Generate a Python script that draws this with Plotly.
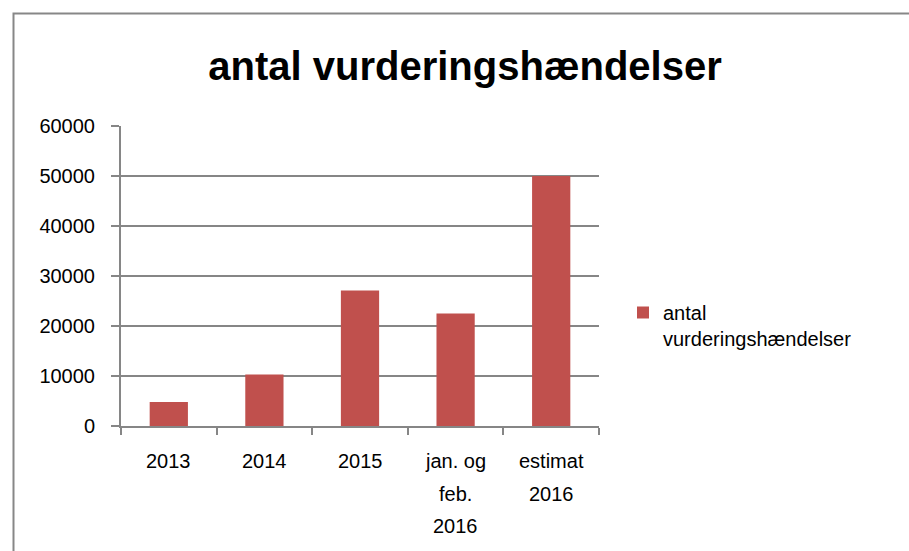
import plotly.graph_objects as go

categories = ["2013", "2014", "2015", "jan. og\nfeb.\n2016", "estimat\n2016"]
values = [4800, 10300, 27100, 22500, 50000]
series_name = "antal vurderingshændelser"
title_text = "antal vurderingshændelser"
y_ticks = [0, 10000, 20000, 30000, 40000, 50000, 60000]

W, H = 909, 551
L, R, T, B = 121, 310, 126, 125
pw, ph = W - L - R, H - T - B
FONT = "Liberation Sans, Arial, sans-serif"
GRID = "#868686"
FS = 20

cat_ids = [c.replace("\n", " ") for c in categories]

fig = go.Figure()
fig.add_trace(go.Bar(
    x=cat_ids, y=values, name="antal<br>vurderingshændelser",
    marker=dict(color="#C0504D", line=dict(width=0)),
    width=0.4,
))

# category labels (multi-line, wide line spacing)
for idx, lab in enumerate(categories):
    for i, line in enumerate(lab.split("\n")):
        fig.add_annotation(x=idx, y=0, xref="x", yref="y", text=line,
                           showarrow=False, yanchor="middle", xanchor="center",
                           yshift=-(35 + 32.5 * i),
                           font=dict(family=FONT, size=FS, color="black"))

def px_to_paper_x(px):
    return (px - L) / pw

def px_to_paper_y(py):
    return (H - B - py) / ph

# outer chart border (only left/top visible in frame)
fig.add_shape(type="rect", xref="paper", yref="paper",
              x0=px_to_paper_x(13.5), x1=px_to_paper_x(W + 5),
              y0=px_to_paper_y(H + 5), y1=px_to_paper_y(13.5),
              line=dict(color="#878787", width=2), fillcolor="rgba(0,0,0,0)",
              layer="below")

fig.update_layout(
    width=W, height=H,
    margin=dict(l=L, r=R, t=T, b=B, pad=0),
    paper_bgcolor="white", plot_bgcolor="white",
    font=dict(family=FONT, size=FS, color="black"),
    title=dict(text="<b>" + title_text + "</b>", x=465 / W, xanchor="center",
               y=1 - 66 / H, yanchor="middle",
               font=dict(family=FONT, size=40, color="black")),
    showlegend=True,
    legend=dict(x=px_to_paper_x(623), y=px_to_paper_y(293), xanchor="left", yanchor="top",
                xref="paper", yref="paper", valign="top",
                font=dict(family=FONT, size=FS, color="black"),
                itemwidth=30, bgcolor="rgba(0,0,0,0)", tracegroupgap=0),
    xaxis=dict(
        type="category", showticklabels=False, showgrid=False,
        showline=True, linecolor=GRID, linewidth=2,
        ticks="outside", ticklen=7, tickcolor=GRID, tickwidth=2,
        tickson="boundaries", range=[-0.5, 4.5], fixedrange=True,
    ),
    yaxis=dict(
        range=[0, 60000], tickvals=y_ticks, ticktext=[str(v) for v in y_ticks],
        showgrid=True, gridcolor=GRID, gridwidth=1.5,
        showline=True, linecolor=GRID, linewidth=2,
        ticks="outside", ticklen=8, tickcolor=GRID, tickwidth=2,
        ticklabelstandoff=12, zeroline=False,
        tickfont=dict(family=FONT, size=FS, color="black"),
    ),
    bargap=0.6,
)

fig.write_html("out.html")
